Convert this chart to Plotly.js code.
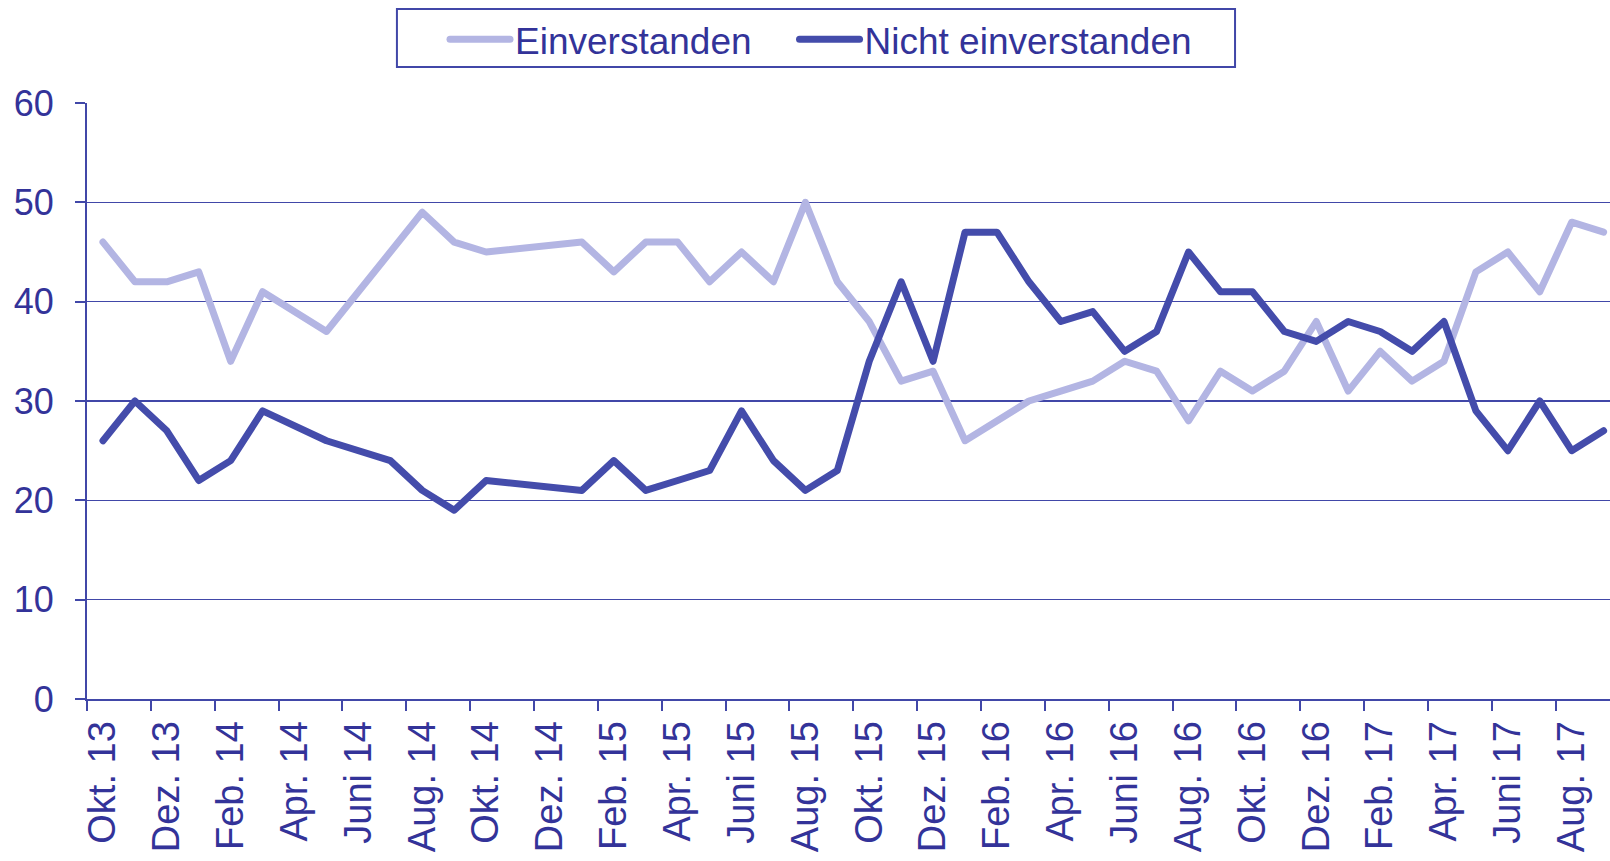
<!DOCTYPE html>
<html>
<head>
<meta charset="utf-8">
<script src="https://cdn.plot.ly/plotly-3.0.1.min.js"></script>
<style>
html,body{margin:0;padding:0;background:#fff;}
#chart{width:1610px;height:861px;}
path.js-line{stroke-linejoin:round;stroke-linecap:round;}
</style>
</head>
<body>
<div id="chart"></div>
<script>
// Monthly categories Okt. 13 – Sept. 17 (labels shown every second month)
const months = [
  "Okt. 13","Nov. 13","Dez. 13",
  "Jan. 14","Feb. 14","März 14","Apr. 14","Mai 14","Juni 14","Juli 14","Aug. 14","Sept. 14","Okt. 14","Nov. 14","Dez. 14",
  "Jan. 15","Feb. 15","März 15","Apr. 15","Mai 15","Juni 15","Juli 15","Aug. 15","Sept. 15","Okt. 15","Nov. 15","Dez. 15",
  "Jan. 16","Feb. 16","März 16","Apr. 16","Mai 16","Juni 16","Juli 16","Aug. 16","Sept. 16","Okt. 16","Nov. 16","Dez. 16",
  "Jan. 17","Feb. 17","März 17","Apr. 17","Mai 17","Juni 17","Juli 17","Aug. 17","Sept. 17"
];
// null = no survey that month
const einverstanden = [
  46, 42, 42,
  43, 34, 41, null, 37, null, 45, 49, 46, 45, null, null,
  46, 43, 46, 46, 42, 45, 42, 50, 42, 38, 32, 33,
  26, 28, 30, 31, 32, 34, 33, 28, 33, 31, 33, 38,
  31, 35, 32, 34, 43, 45, 41, 48, 47
];
const nichtEinverstanden = [
  26, 30, 27,
  22, 24, 29, null, 26, null, 24, 21, 19, 22, null, null,
  21, 24, 21, 22, 23, 29, 24, 21, 23, 34, 42, 34,
  47, 47, 42, 38, 39, 35, 37, 45, 41, 41, 37, 36,
  38, 37, 35, 38, 29, 25, 30, 25, 27
];
const yTicks = [0, 10, 20, 30, 40, 50, 60];

const textColor = '#333399';
const axisColor = '#4147A8';
const font = 'Liberation Sans, Arial, sans-serif';

const traces = [
  {x: months, y: einverstanden, name: 'Einverstanden', type: 'scatter', mode: 'lines',
   connectgaps: true, line: {color: '#B3B5E3', width: 7}, legend: 'legend'},
  {x: months, y: nichtEinverstanden, name: 'Nicht einverstanden', type: 'scatter', mode: 'lines',
   connectgaps: true, line: {color: '#444CAB', width: 7}, legend: 'legend2'}
];

const legendBase = {
  orientation: 'h', xref: 'container', yref: 'container',
  xanchor: 'left', y: 0.99, yanchor: 'top',
  borderwidth: 0, bgcolor: 'rgba(0,0,0,0)',
  font: {family: font, size: 37, color: textColor},
  itemwidth: 60
};

const layout = {
  width: 1610, height: 861,
  margin: {l: 87, r: 0, t: 103, b: 162, pad: 0},
  paper_bgcolor: '#ffffff', plot_bgcolor: '#ffffff',
  font: {family: font, color: textColor, size: 36},
  showlegend: true,
  legend: Object.assign({}, legendBase, {x: 0.2764}),
  legend2: Object.assign({}, legendBase, {x: 0.4935}),
  shapes: [
    {type: 'rect', xref: 'paper', yref: 'paper', x0: 0.2035, x1: 0.7538, y0: 1.0604, y1: 1.1577,
     line: {color: axisColor, width: 2}, fillcolor: 'rgba(0,0,0,0)', layer: 'below'}
  ],
  xaxis: {
    type: 'category', categoryorder: 'array', categoryarray: months,
    range: [-0.5, 47.2],
    tickmode: 'linear', tick0: 0, dtick: 2,
    tickson: 'boundaries', ticks: 'outside', ticklen: 10, tickwidth: 2, tickcolor: axisColor,
    tickangle: -90, ticklabelstandoff: 5, tickfont: {family: font, size: 38, color: textColor},
    showgrid: false, showline: true, linecolor: axisColor, linewidth: 2,
    zeroline: false, fixedrange: true
  },
  yaxis: {
    range: [0, 60], tickmode: 'array', tickvals: yTicks,
    ticks: 'outside', ticklen: 10, tickwidth: 2, tickcolor: axisColor,
    ticklabelstandoff: 14, tickfont: {family: font, size: 36, color: textColor},
    showgrid: true, gridcolor: axisColor, gridwidth: 1.5,
    showline: true, linecolor: axisColor, linewidth: 2,
    zeroline: false, fixedrange: true
  }
};

Plotly.newPlot('chart', traces, layout, {displayModeBar: false, staticPlot: true});
</script>
</body>
</html>
